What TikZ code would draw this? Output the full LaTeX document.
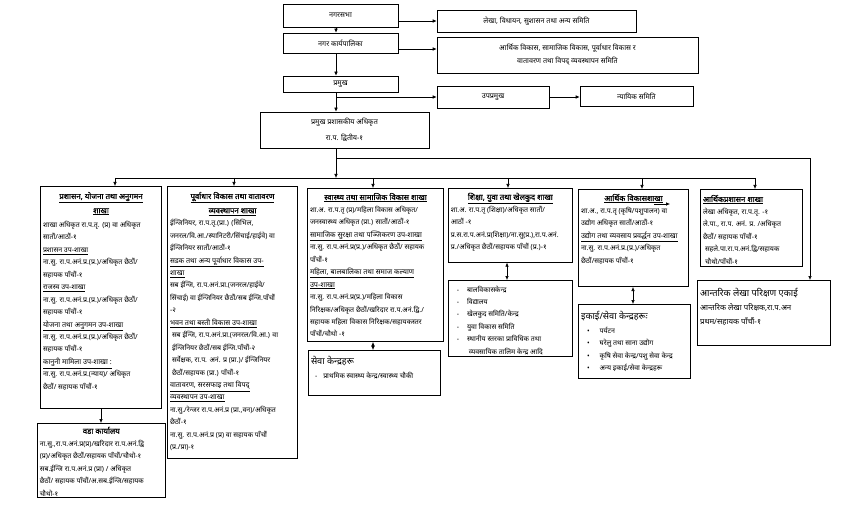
\documentclass[tikz,border=0pt]{standalone}
\usepackage{fontspec}
\usepackage{graphicx}
\setmainfont[Script=Devanagari]{Noto Sans}
\newfontfamily\devb[Script=Devanagari,FakeBold=1]{Noto Sans}
\usetikzlibrary{arrows.meta,calc}
\newcommand\fs[2]{\fontsize{#1}{#2}\selectfont}
\newcommand\ul[1]{\underline{#1}}
\newsavebox\linebox
\newcommand\Ll[1]{\sbox\linebox{#1}\ifdim\wd\linebox>\hsize\leftline{\resizebox{\hsize}{\height}{#1}}\else\leftline{#1}\fi}
\newcommand\Lc[1]{\sbox\linebox{#1}\ifdim\wd\linebox>\hsize\centerline{\resizebox{\hsize}{\height}{#1}}\else\centerline{#1}\fi}
\newcommand\bodyfont{\fs{7}{12.45}\lineskiplimit=-20pt\lineskip=0pt}
\newcommand\ttl{\devb\fs{7.8}{12}}
\newcommand\sub{\fs{7.2}{12}}
\newcommand\hd{\fs{9.2}{12}}
\newcommand\tgap{\vspace{1.8pt}}
\begin{document}
\begin{tikzpicture}[x=1pt,y=-1pt,
  box/.style={draw, line width=0.6pt, inner sep=0pt, font=\fs{7.2}{13}, align=center},
  br/.style={draw, line width=1pt, inner sep=2.5pt, anchor=north west},
  thin br/.style={br, line width=0.6pt},
  arr/.style={-{Latex[length=4pt,width=3.5pt]}, line width=0.6pt},
  darr/.style={{Latex[length=4pt,width=3.5pt]}-{Latex[length=4pt,width=3.5pt]}, line width=0.6pt},
  ln/.style={line width=0.6pt}]
\useasboundingbox (0,0) rectangle (848,505);

% top part
\node[box, minimum width=115, minimum height=23] (sabha) at (340.5,15.5) {नगरसभा};
\node[box, minimum width=199, minimum height=22] (lekha) at (536.5,21) {लेखा, विधायन, सुशासन तथा अन्य समिति};
\node[box, minimum width=115, minimum height=20] (karya) at (340.5,43) {नगर कार्यपालिका};
\node[box, minimum width=261, minimum height=36] (arthik) at (567.5,55) {आर्थिक विकास, सामाजिक विकास, पूर्वाधार विकास र\\वातावरण तथा विपद् व्यवस्थापन समिति};
\node[box, minimum width=115, minimum height=16] (pramukh) at (340.5,84) {प्रमुख};
\node[box, minimum width=112, minimum height=22] (upa) at (493,97) {उपप्रमुख};
\node[box, minimum width=113, minimum height=20] (nyay) at (636.5,96) {न्यायिक समिति};
\node[box, minimum width=169, minimum height=36, font=\fs{7.2}{15.5}] (pao) at (344.5,130) {प्रमुख प्रशासकीय अधिकृत\\रा.प. द्वितीय-१};

\coordinate (vx) at (336,0);
\coordinate (j1) at (336,158);
\coordinate (j2) at (336,178);

\draw[arr] (vx |- sabha.south) -- (vx |- karya.north);
\draw[arr] (vx |- karya.south) -- (vx |- pramukh.north);
\draw[arr] (vx |- pramukh.south) -- (vx |- pao.north);
\draw[arr] (sabha.east |- lekha.west) -- (lekha.west);
\draw[arr] ([yshift=-6pt]karya.east) -- ([yshift=-6pt]karya.east -| arthik.west);
\draw[arr] (vx |- upa.west) -- (upa.west);
\draw[arr] (upa.east) -- (upa.east -| nyay.west);

% branch boxes
\node[br] (b1) at (40,186) {\begin{minipage}[t][217pt][t]{116pt}\bodyfont\vspace*{3pt}
\Lc{\ttl\ul{प्रशासन, योजना तथा अनुगमन}}\tgap
\Lc{\ttl\ul{शाखा}}\tgap
\Ll{शाखा अधिकृत रा.प.तृ. (प्र) वा अधिकृत}
\Ll{सातौं/आठौं-१}
\Ll{\ul{प्रशासन उप-शाखा}}
\Ll{ना.सु. रा.प.अनं.प्र.(प्र.)/अधिकृत छैठौं/}
\Ll{सहायक पाँचौं-१}
\Ll{\ul{राजस्व उप-शाखा}}
\Ll{ना.सु. रा.प.अनं.प्र.(प्र.)/अधिकृत छैठौं/}
\Ll{सहायक पाँचौं-१}
\Ll{\sub\ul{योजना तथा अनुगमन उप-शाखा}}
\Ll{ना.सु. रा.प.अनं.प्र.(प्र.)/अधिकृत छैठौं/}
\Ll{सहायक पाँचौं-१}
\Ll{\sub\ul{कानुनी मामिला उप-शाखा :}}
\Ll{ना.सु. रा.प.अनं.प्र.(न्याय)/ अधिकृत}
\Ll{छैठौं/ सहायक पाँचौं-१}
\end{minipage}};

\node[br] (b2) at (167,186) {\begin{minipage}[t][267pt][t]{125pt}\bodyfont\vspace*{3pt}
\Lc{\ttl\ul{पूर्वाधार विकास तथा वातावरण}}\tgap
\Lc{\ttl\ul{व्यवस्थापन शाखा}}
\Ll{ईन्जिनियर, रा.प.तृ.(प्रा.) (सिभिल,}
\Ll{जनरल/वि.आ./स्यानिटरी/सिंचाई/हाईवे) वा}
\Ll{ईन्जिनियर सातौं/आठौं-१}
\Ll{\sub\ul{सडक तथा अन्य पूर्वाधार विकास उप-}}
\Ll{\sub\ul{शाखा}}
\Ll{सब ईन्जि, रा.प.अनं.प्रा.(जनरल/हाईवे/}
\Ll{सिंचाई) वा ईन्जिनियर छैठौं/सब ईन्जि.पाँचौं}
\Ll{-२}
\Ll{\sub\ul{भवन तथा बस्ती विकास उप-शाखा}}
\Ll{\hspace{2pt}सब ईन्जि, रा.प.अनं.प्रा.(जनरल/वि.आ.) वा}
\Ll{\hspace{2pt}ईन्जिनियर छैठौं/सब ईन्जि.पाँचौं-२}
\Ll{\hspace{2pt}सर्वेक्षक, रा.प. अनं. प्र (प्रा.)/ ईन्जिनियर}
\Ll{\hspace{2pt}छैठौं/सहायक (प्रा.) पाँचौं-१}
\Ll{\sub\ul{वातावरण, सरसफाइ तथा विपद्}}
\Ll{\sub\ul{व्यवस्थापन उप-शाखा}}
\Ll{ना.सु./रेन्जर रा.प.अनं.प्र (प्रा.,वन)/अधिकृत}
\Ll{छैठौं-१}
\Ll{ना.सु. रा.प.अनं.प्र (प्र) वा सहायक पाँचौं}
\Ll{(प्र./प्रा)-१}
\end{minipage}};

\node[br] (b3) at (307,188) {\begin{minipage}[t][148pt][t]{131pt}\bodyfont\vspace*{2pt}
\Lc{\ttl\ul{स्वास्थ्य तथा सामाजिक विकास शाखा}}
\Ll{शा.अ. रा.प.तृ (प्र)/महिला विकास अधिकृत/}
\Ll{जनस्वास्थ्य अधिकृत (प्रा.) सातौं/आठौं-१}
\Ll{\sub\ul{सामाजिक सुरक्षा तथा पञ्जिकरण उप-शाखा}}
\Ll{ना.सु. रा.प.अनं.प्र(प्र.)/अधिकृत छैठौं/ सहायक}
\Ll{पाँचौं-१}
\Ll{\sub\ul{महिला, बालबालिका तथा समाज कल्याण}}
\Ll{\sub\ul{उप-शाखा}}
\Ll{ना.सु. रा.प.अनं.प्र(प्र.)/महिला विकास}
\Ll{निरिक्षक/अधिकृत छैठौं/खरिदार रा.प.अनं.द्वि./}
\Ll{सहायक महिला विकास निरिक्षक/सहायकस्तर}
\Ll{पाँचौं/चौथो -१}
\end{minipage}};

\node[br] (b3b) at (308,350) {\begin{minipage}[t][40pt][t]{127pt}\fs{7}{14}\vspace*{3pt}
\Ll{\hd सेवा केन्द्रहरू}
\Ll{\hspace{4pt}-\hspace{6pt}प्राथमिक स्वास्थ्य केन्द्र/स्वास्थ्य चौकी}
\end{minipage}};

\node[thin br] (b4) at (448,188) {\begin{minipage}[t][69pt][t]{119pt}\bodyfont\vspace*{2pt}
\Lc{\ttl\ul{शिक्षा, युवा तथा खेलकुद शाखा}}
\Ll{शा.अ. रा.प.तृ (शिक्षा)/अधिकृत सातौं/}
\Ll{आठौं -१}
\Ll{प्र.स.रा.प.अनं.प्र(शिक्षा)/ना.सु(प्र.),रा.प.अनं.}
\Ll{प्र./अधिकृत छैठौं/सहायक पाँचौं (प्र.)-१}
\end{minipage}};

\node[thin br] (b4b) at (448,280) {\begin{minipage}[t][71pt][t]{119pt}\bodyfont\vspace*{3pt}
\Ll{\hspace{6pt}-\hspace{8pt}बालविकासकेन्द्र}
\Ll{\hspace{6pt}-\hspace{8pt}विद्यालय}
\Ll{\hspace{6pt}-\hspace{8pt}खेलकुद समिति/केन्द्र}
\Ll{\hspace{6pt}-\hspace{8pt}युवा विकास समिति}
\Ll{\hspace{6pt}-\hspace{8pt}स्थानीय स्तरका प्राविधिक तथा}
\Ll{\hspace{18pt}व्यवसायिक तालिम केन्द्र आदि}
\end{minipage}};

\node[br] (b5) at (578,189) {\begin{minipage}[t][92pt][t]{105pt}\bodyfont\vspace*{2pt}
\Lc{\ttl\ul{आर्थिक विकासशाखा}}
\Ll{शा.अ., रा.प.तृ (कृषि/पशुपालन) वा}
\Ll{उद्योग अधिकृत सातौं/आठौं-१}
\Ll{\sub\ul{उद्योग तथा व्यवसाय प्रवर्द्धन उप-शाखा}}
\Ll{ना.सु. रा.प.अनं.प्र.(प्र.)/अधिकृत}
\Ll{छैठौं/सहायक पाँचौं-१}
\end{minipage}};
\draw[arr] (654,204) -- (670,204);

\node[br] (b5b) at (578,304) {\begin{minipage}[t][69pt][t]{107pt}\bodyfont\vspace*{4pt}
\Ll{\hd इकाई/सेवा केन्द्रहरूः}\vspace{1.5pt}
\Ll{\hspace{6pt}•\hspace{10pt}पर्यटन}
\Ll{\hspace{6pt}•\hspace{10pt}घरेलु तथा साना उद्योग}
\Ll{\hspace{6pt}•\hspace{10pt}कृषि सेवा केन्द्र/पशु सेवा केन्द्र}
\Ll{\hspace{6pt}•\hspace{10pt}अन्य इकाई/सेवा केन्द्रहरू}
\end{minipage}};

\node[br] (b6) at (700,189) {\begin{minipage}[t][72pt][t]{97pt}\bodyfont\vspace*{3pt}
\Ll{\ttl\ul{आर्थिकप्रशासन शाखा}}
\Ll{लेखा अधिकृत, रा.प.तृ. -१}
\Ll{ले.पा., रा.प. अनं. प्र. /अधिकृत}
\Ll{छैठौं/ सहायक पाँचौं-१}
\Ll{\hspace{2pt}सहले.पा.रा.प.अनं.द्वि/सहायक}
\Ll{\hspace{2pt}चौथो/पाँचौं-१}
\end{minipage}};

\node[br, line width=1.2pt] (ant) at (697,280) {\begin{minipage}[t][60pt][t]{128pt}\fs{7.8}{14}\vspace*{5pt}
\Ll{\hd आन्तरिक लेखा परिक्षण एकाई}
\Ll{आन्तरिक लेखा परिक्षक,रा.प.अन}
\Ll{प्रथम/सहायक पाँचौं-१}
\end{minipage}};

\node[thin br] (wada) at (37,423) {\begin{minipage}[t][69pt][t]{123pt}\bodyfont\vspace*{1pt}
\Lc{\ttl वडा कार्यालय}
\Ll{ना.सु.,रा.प.अनं.प्र(प्र)/खरिदार रा.प.अनं.द्वि}
\Ll{(प्र)/अधिकृत छैठौं/सहायक पाँचौं/चौथो-१}
\Ll{सब.ईन्जि रा.प.अनं.प्र (प्रा) / अधिकृत}
\Ll{छैठौं/ सहायक पाँचौं/अ.सब.ईन्जि/सहायक}
\Ll{चौथो-१}
\end{minipage}};

% connectors from PAO
\draw[arr] (vx |- pao.south) -- (j2);
\draw[arr] (j1) -| ([xshift=113pt]ant.north west);
\draw[ln] ([xshift=75pt]b1.north west |- j2) -- ([xshift=55pt]b6.north west |- j2);
\draw[arr] ([xshift=75pt]b1.north west |- j2) -- ([xshift=75pt]b1.north west);
\draw[arr] ([xshift=67pt]b2.north west |- j2) -- ([xshift=67pt]b2.north west);
\draw[arr] ([xshift=66pt]b3.north west |- j2) -- ([xshift=66pt]b3.north west);
\draw[arr] ([xshift=60pt]b4.north west |- j2) -- ([xshift=60pt]b4.north west);
\draw[arr] ([xshift=64pt]b5.north west |- j2) -- ([xshift=64pt]b5.north west);
\draw[arr] ([xshift=55pt]b6.north west |- j2) -- ([xshift=55pt]b6.north west);

\draw[arr] ([xshift=61pt]b1.south west) -- ([xshift=61pt]b1.south west |- wada.north);
\draw[darr] ([xshift=66pt]b3.south west) -- ([xshift=66pt]b3.south west |- b3b.north);
\draw[darr] ([xshift=59pt]b4.south west) -- ([xshift=59pt]b4.south west |- b4b.north);
\draw[darr] ([xshift=55pt]b5.south west) -- ([xshift=55pt]b5.south west |- b5b.north);
\end{tikzpicture}
\end{document}
